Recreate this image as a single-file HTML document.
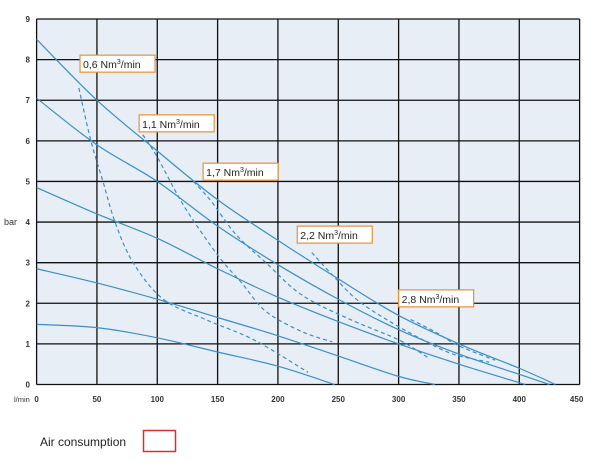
<!DOCTYPE html>
<html><head><meta charset="utf-8"><style>
body{margin:0;background:#fff;width:600px;height:469px;overflow:hidden;font-family:"Liberation Sans",sans-serif}
svg{display:block}
</style></head><body>
<svg id="chart" width="600" height="469"></svg>
<script>
const xTicks=[0,50,100,150,200,250,300,350,400,450];
const yTicks=[0,1,2,3,4,5,6,7,8,9];
const solid1=[[0,8.5],[50,7.0],[100,5.75],[150,4.55],[200,3.55],[250,2.6],[300,1.7],[350,1.0],[400,0.4],[430,0]];
const solid2=[[0,7.05],[50,5.9],[100,5.0],[150,3.9],[200,2.95],[250,2.1],[300,1.35],[350,0.75],[400,0.25],[425,0]];
const solid3=[[0,4.85],[50,4.2],[100,3.6],[150,2.85],[200,2.15],[250,1.55],[300,1.0],[350,0.5],[405,0]];
const solid4=[[0,2.85],[50,2.5],[100,2.1],[150,1.65],[200,1.2],[250,0.7],[300,0.2],[330,0]];
const solid5=[[0,1.48],[50,1.4],[100,1.15],[150,0.8],[200,0.45],[247,0]];
const dash06=[[35,7.3],[45,6.0],[55,5.0],[65,4.0],[80,3.0],[105,2.1],[140,1.6],[180,1.1],[225,0.3]];
const dash11=[[88,6.15],[100,5.6],[120,4.5],[140,3.6],[155,3.0],[170,2.5],[190,1.8],[220,1.3],[245,1.05]];
const dash17=[[130,5.0],[145,4.5],[165,3.7],[190,3.0],[220,2.2],[260,1.6],[300,1.1],[325,0.65]];
const dash22=[[228,3.25],[245,2.7],[265,2.1],[290,1.6],[320,1.1],[345,0.75],[375,0.55]];
const dash28=[[310,1.6],[330,1.3],[350,0.95],[380,0.6]];
const labels=["0,6","1,1","1,7","2,2","2,8"];
const labelPos=[[36,8.11],[85,6.64],[138,5.45],[216,3.9],[300,2.33]];

const X=v=>36.6+v*1.2067, Y=v=>384.5-v*40.61;
const svg=document.getElementById('chart');
const NS='http://www.w3.org/2000/svg';
function mk(t,a,p){const e=document.createElementNS(NS,t);for(const k in a)e.setAttribute(k,a[k]);(p||svg).appendChild(e);return e;}
const bg=mk('rect',{x:X(0),y:Y(9),width:X(450)-X(0),height:Y(0)-Y(9),fill:'#e8eef5'});


xTicks.forEach(t=>{
  const l=mk('line',{x1:X(t),x2:X(t),y1:Y(0),y2:Y(9),stroke:'#111','stroke-width':1.3});
  
  
  const tx=mk('text',{x:X(t)+(t==450?-3:0),y:402,'font-size':8,'font-weight':'bold',fill:'#333','text-anchor':'middle'});
  tx.textContent=t;
  
  
});
yTicks.forEach(t=>{
  const l=mk('line',{x1:X(0),x2:X(450),y1:Y(t),y2:Y(t),stroke:'#111','stroke-width':1.3});
  
  
  const tx=mk('text',{x:30,y:Y(t)+3,'font-size':8,'font-weight':'bold',fill:'#333','text-anchor':'end'});
  tx.textContent=t;
  
  
});
function path(pts){let d='M'+X(pts[0][0])+','+Y(pts[0][1]);
  for(let i=1;i<pts.length;i++){const p0=pts[Math.max(i-2,0)],p1=pts[i-1],p2=pts[i],p3=pts[Math.min(i+1,pts.length-1)];
    const c1x=X(p1[0])+(X(p2[0])-X(p0[0]))/6,c1y=Y(p1[1])+(Y(p2[1])-Y(p0[1]))/6;
    const c2x=X(p2[0])-(X(p3[0])-X(p1[0]))/6,c2y=Y(p2[1])-(Y(p3[1])-Y(p1[1]))/6;
    d+=` C${c1x},${c1y} ${c2x},${c2y} ${X(p2[0])},${Y(p2[1])}`;}
  return d;}
[solid1,solid2,solid3,solid4,solid5].forEach((s,i)=>{
  const p=mk('path',{d:path(s),fill:'none',stroke:'#3b8fc9','stroke-width':1.2});
  
  
});
[dash06,dash11,dash17,dash22,dash28].forEach((s,i)=>{
  const p=mk('path',{d:path(s),fill:'none',stroke:'#3b8fc9','stroke-width':1.2,'stroke-dasharray':'4,3'});
  
  
});
labels.forEach((lb,i)=>{
  const g=mk('g',{});
  
  
  const x=X(labelPos[i][0]),y=Y(labelPos[i][1]);
  mk('rect',{x:x,y:y,width:75,height:17,fill:'#fff',stroke:'#e8913a','stroke-width':1.2},g);
  const t=mk('text',{x:x+3,y:y+13,'font-size':10.5,fill:'#222'},g);
  t.innerHTML=lb+' Nm<tspan font-size="7" dy="-4">3</tspan><tspan dy="4">/min</tspan>';
});
const yl=mk('text',{x:4,y:225,'font-size':9,fill:'#333'});yl.textContent='bar';


const xl=mk('text',{x:14,y:402,'font-size':7.5,fill:'#333'});xl.textContent='l/min';


const lg=mk('text',{x:40,y:446,'font-size':12,fill:'#222'});lg.textContent='Air consumption';


const lb=mk('rect',{x:143.5,y:430.5,width:32,height:21,fill:'#fff',stroke:'#d9302f','stroke-width':1.5});


</script>
</body></html>
